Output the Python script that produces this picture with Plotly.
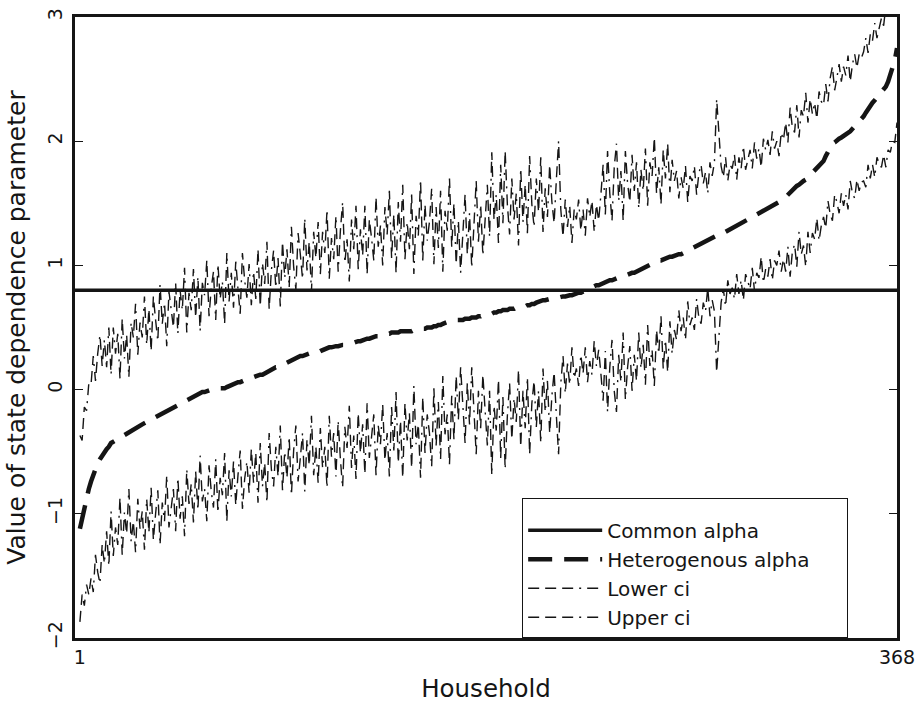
import numpy as np
import plotly.graph_objects as go

# Household index (sorted by heterogeneous alpha estimate)
households = list(range(1, 369))

# Common (pooled) state dependence parameter
common_alpha = 0.80

# Heterogeneous alpha per household (sorted)
het_alpha = [
    -1.12, -1.03, -0.94, -0.87, -0.80, -0.74, -0.68, -0.63, -0.59, -0.56, -0.53, -0.50, -0.48, -0.46, -0.43,
    -0.42, -0.41, -0.40, -0.39, -0.38, -0.37, -0.36, -0.35, -0.34, -0.32, -0.31, -0.30, -0.29, -0.28, -0.27,
    -0.26, -0.25, -0.24, -0.23,
    -0.22, -0.21, -0.20, -0.19, -0.18, -0.17, -0.16, -0.15, -0.15, -0.14, -0.13, -0.12, -0.11, -0.10, -0.09,
    -0.07, -0.06, -0.05, -0.04, -0.03, -0.03, -0.02, -0.02, -0.01,
    -0.01, 0.00, 0.00, 0.00, 0.01, 0.01, 0.01, 0.01, 0.02, 0.03, 0.04, 0.04, 0.05, 0.06, 0.06, 0.07, 0.08,
    0.08, 0.09, 0.10, 0.10, 0.11, 0.11, 0.12, 0.12, 0.13, 0.14, 0.15, 0.16, 0.17, 0.18, 0.18, 0.19, 0.19,
    0.20, 0.21, 0.22, 0.23, 0.25, 0.26,
    0.26, 0.27, 0.27, 0.28, 0.28, 0.29, 0.29, 0.29, 0.30, 0.30, 0.31, 0.32, 0.32, 0.33, 0.34, 0.34,
    0.35, 0.35, 0.35, 0.36, 0.36, 0.36, 0.37, 0.37, 0.37, 0.38,
    0.38, 0.39, 0.39, 0.40, 0.40, 0.41, 0.41, 0.42, 0.42, 0.43, 0.43, 0.44, 0.44, 0.45, 0.45, 0.45, 0.46, 0.46,
    0.46, 0.46, 0.47, 0.47, 0.47, 0.47, 0.47, 0.47,
    0.48, 0.48, 0.48, 0.49, 0.49, 0.49, 0.50, 0.50, 0.50, 0.51, 0.51, 0.52, 0.52, 0.53, 0.54, 0.54, 0.55,
    0.55, 0.55, 0.56, 0.56, 0.56, 0.56, 0.57, 0.57, 0.57,
    0.58, 0.58, 0.58, 0.59, 0.59, 0.60, 0.60, 0.60, 0.61, 0.61, 0.62, 0.62, 0.63, 0.63, 0.64, 0.64,
    0.64, 0.65, 0.65, 0.65, 0.66, 0.66, 0.66, 0.67, 0.67,
    0.68, 0.68, 0.69, 0.69, 0.70, 0.71, 0.72, 0.72, 0.72, 0.73, 0.73, 0.73, 0.74, 0.74, 0.74, 0.75, 0.75,
    0.75, 0.76, 0.76, 0.76, 0.77, 0.77, 0.78, 0.78,
    0.79, 0.79, 0.80, 0.81, 0.82, 0.83, 0.84, 0.84, 0.85, 0.86, 0.86, 0.87, 0.88, 0.88, 0.89, 0.90, 0.90, 0.91,
    0.91, 0.92, 0.92, 0.93, 0.94, 0.94, 0.95,
    0.96, 0.97, 0.98, 0.99, 1.00, 1.01, 1.02, 1.03, 1.03, 1.04, 1.04, 1.05, 1.05, 1.06, 1.07,
    1.07, 1.08, 1.08, 1.09, 1.09, 1.10, 1.10, 1.11, 1.12,
    1.13, 1.14, 1.15, 1.16, 1.17, 1.18, 1.19, 1.20, 1.21, 1.22, 1.23, 1.24, 1.25, 1.25, 1.26, 1.27, 1.28,
    1.29, 1.30, 1.31, 1.31, 1.32, 1.33, 1.34, 1.35,
    1.36, 1.37, 1.38, 1.39, 1.40, 1.42, 1.43, 1.44, 1.45, 1.46, 1.47, 1.48, 1.49, 1.50, 1.50, 1.51,
    1.53, 1.55, 1.57, 1.59, 1.61,
    1.62, 1.64, 1.65, 1.67, 1.68, 1.69, 1.71, 1.72, 1.74, 1.76, 1.78, 1.80, 1.82, 1.84, 1.88, 1.92, 1.96,
    1.98, 1.99, 2.01, 2.02, 2.03, 2.04, 2.05, 2.07, 2.08, 2.10, 2.12, 2.14, 2.15, 2.17,
    2.20, 2.23, 2.26, 2.28, 2.31,
    2.33, 2.35, 2.37, 2.39, 2.41, 2.44, 2.48, 2.53, 2.58, 2.65, 2.75,
]

# Half-width of the confidence interval per household (upper - estimate)
ci_halfwidth = [
    0.75, 0.62, 0.80, 0.70, 0.85,
    0.78, 0.95, 0.70, 0.88, 1.00, 0.72, 0.90, 0.66, 0.96,
    0.55, 0.92, 0.70, 0.85, 0.48, 0.95, 0.62, 0.80, 0.45, 0.88, 0.74, 1.00, 0.58, 0.83,
    0.70, 1.02, 0.62, 0.90, 0.55, 0.98, 0.78, 0.60, 1.05, 0.72, 0.88, 0.52, 0.95, 0.80,
    0.65, 1.00, 0.58, 0.92, 0.75, 1.08, 0.55, 0.85, 0.70, 1.02, 0.62, 0.94, 0.50, 0.88, 0.78, 1.05,
    0.60, 0.82, 0.95, 0.56, 1.00, 0.72, 0.86, 0.52, 1.08, 0.68, 0.90, 0.62, 0.98, 0.75, 0.55, 1.03,
    0.80, 0.66, 0.92, 0.58,
    0.85, 0.62, 1.02, 0.55, 0.90, 0.72, 1.05, 0.50, 0.80, 0.95, 0.64, 0.88, 0.48, 1.00, 0.70,
    0.92, 0.60, 1.08, 0.74, 0.55, 1.00, 0.82, 0.62, 1.10, 0.68, 0.90, 0.50, 0.98, 0.76, 1.05,
    0.62, 0.95, 0.78, 1.12, 0.55, 0.88, 0.70, 1.05, 0.60, 0.92, 1.15, 0.66, 0.84, 0.50, 1.00,
    0.75, 1.10, 0.58, 0.90, 0.68, 1.08, 0.52, 0.96, 0.80, 0.62, 1.12, 0.72, 0.88, 0.56, 1.02,
    0.80, 1.15, 0.60, 0.95, 0.48, 1.05, 0.72, 1.18, 0.58, 0.88, 0.66, 1.10, 0.45, 0.92, 0.76,
    1.20, 0.55, 1.00, 0.70, 0.85, 1.12, 0.50, 0.96, 0.62, 1.08, 0.42, 0.90, 0.74, 1.15, 0.60,
    0.95, 0.45, 0.80, 0.38, 0.70, 1.00, 0.52, 0.85, 0.40, 0.75, 1.10, 0.60, 0.90, 0.48, 0.82,
    1.05, 0.62, 1.30, 0.75, 0.95, 0.55, 1.18, 0.70, 1.28, 0.85, 0.60, 1.05, 0.72, 0.92, 0.50,
    1.12, 0.68, 0.98, 0.58, 1.20, 0.80, 0.62, 1.00, 0.72, 1.15, 0.55, 0.90, 0.66, 1.08, 0.78,
    0.60, 0.95, 1.26,
    0.70, 0.48, 0.78, 0.55, 0.72, 0.42, 0.68, 0.60, 0.75, 0.50, 0.66, 0.45, 0.74, 0.58, 0.70,
    0.44, 0.65, 0.52, 0.72,
    0.95, 0.55, 1.05, 0.70, 0.48, 0.90, 1.08, 0.62, 0.85, 0.45, 1.00, 0.74, 0.58, 0.95, 0.66,
    0.88, 0.50, 0.80,
    0.62, 0.95, 0.48, 0.82, 0.70, 1.00, 0.55, 0.75, 0.45, 0.88, 0.65, 0.92, 0.52, 0.78, 0.60,
    0.68, 0.45, 0.62, 0.52, 0.70, 0.40, 0.60, 0.55, 0.66, 0.42, 0.58, 0.64, 0.48, 0.56, 0.38,
    0.62, 0.50, 0.60,
    1.10,
    0.85, 0.55, 0.45, 0.60, 0.40, 0.52, 0.48, 0.58, 0.38, 0.55, 0.45, 0.62, 0.42, 0.50, 0.56,
    0.40, 0.60, 0.46, 0.52, 0.36, 0.58, 0.48, 0.55, 0.42, 0.60, 0.45, 0.50, 0.38, 0.56, 0.48,
    0.60, 0.42, 0.68, 0.50, 0.45, 0.65, 0.38, 0.58, 0.52, 0.70, 0.44, 0.62, 0.48, 0.55, 0.40,
    0.60, 0.50,
    0.45, 0.58, 0.40, 0.55, 0.62, 0.42, 0.50, 0.60, 0.45, 0.56, 0.48, 0.62, 0.40, 0.52, 0.58,
    0.45, 0.55, 0.50,
    0.52, 0.60, 0.45, 0.58, 0.50, 0.62, 0.48, 0.55, 0.60, 0.52, 0.65, 0.55, 0.62, 0.58, 0.66, 0.60,
]

x_tick_vals = [1, 368]
x_tick_text = ["1", "368"]
y_tick_vals = [-2, -1, 0, 1, 2, 3]
y_tick_text = ["\u22122", "\u22121", "0", "1", "2", "3"]
x_range = [-1.2, 368]
y_range = [-2, 3]
series_names = ["Common alpha", "Heterogenous alpha", "Lower ci", "Upper ci"]

assert len(het_alpha) == len(households), len(het_alpha)
assert len(ci_halfwidth) == len(households), len(ci_halfwidth)

alpha = np.array(het_alpha)
hw = np.array(ci_halfwidth)
lower_ci = alpha - hw
upper_ci = alpha + hw

INK = "#151515"
FONT = "DejaVu Sans, sans-serif"
ci_dash = "11px,6px,11px,6px,11px,6px,2px,6px"
PAD = "\u00a0" * 5  # widens the legend box to the reference's width

fig = go.Figure()
fig.add_trace(go.Scatter(
    x=x_range, y=[common_alpha, common_alpha], mode="lines",
    name=series_names[0], line=dict(color=INK, width=3.5),
))
fig.add_trace(go.Scatter(
    x=households, y=alpha, mode="lines",
    name=series_names[1] + PAD, line=dict(color=INK, width=4.5, dash="24px,12px"),
))
fig.add_trace(go.Scatter(
    x=households, y=lower_ci, mode="lines",
    name=series_names[2], line=dict(color=INK, width=1.4, dash=ci_dash),
))
fig.add_trace(go.Scatter(
    x=households, y=upper_ci, mode="lines",
    name=series_names[3], line=dict(color=INK, width=1.4, dash=ci_dash),
))

fig.update_layout(
    width=920, height=710,
    margin=dict(l=75, r=23, t=17, b=72, autoexpand=False),
    paper_bgcolor="white", plot_bgcolor="white",
    font=dict(family=FONT, color=INK, size=19),
    showlegend=True,
    legend=dict(
        x=0.544, y=0, xanchor="left", yanchor="bottom",
        bgcolor="white", bordercolor=INK, borderwidth=1,
        font=dict(size=20, family=FONT, color=INK),
        itemwidth=74,
        title=dict(text=" ", font=dict(size=9)),
    ),
    xaxis=dict(
        range=x_range, tickvals=x_tick_vals, ticktext=x_tick_text,
        showgrid=False, zeroline=False, ticks="",
        showline=True, linecolor=INK, linewidth=2.5, mirror=True,
        automargin=False, ticklabeloverflow="allow",
        title=dict(text="Household", standoff=14, font=dict(size=24.5)),
        tickfont=dict(size=19),
    ),
    yaxis=dict(
        range=y_range, tickvals=y_tick_vals, ticktext=y_tick_text,
        showgrid=False, zeroline=False, ticks="inside", ticklen=8,
        tickcolor=INK, tickwidth=1.2,
        showline=True, linecolor=INK, linewidth=2.5, mirror="ticks",
        tickangle=-90, automargin=False, ticklabelstandoff=3,
        ticklabeloverflow="allow",
        title=dict(text="Value of state dependence parameter", standoff=11, font=dict(size=25)),
        tickfont=dict(size=19),
    ),
)

# Remove the default page margin so the 920x710 figure fills the window exactly,
# and hide the interactive toolbar.
fig.write_html(
    "out.html",
    config={"displayModeBar": False},
    post_script="document.body.style.margin='0';",
)
